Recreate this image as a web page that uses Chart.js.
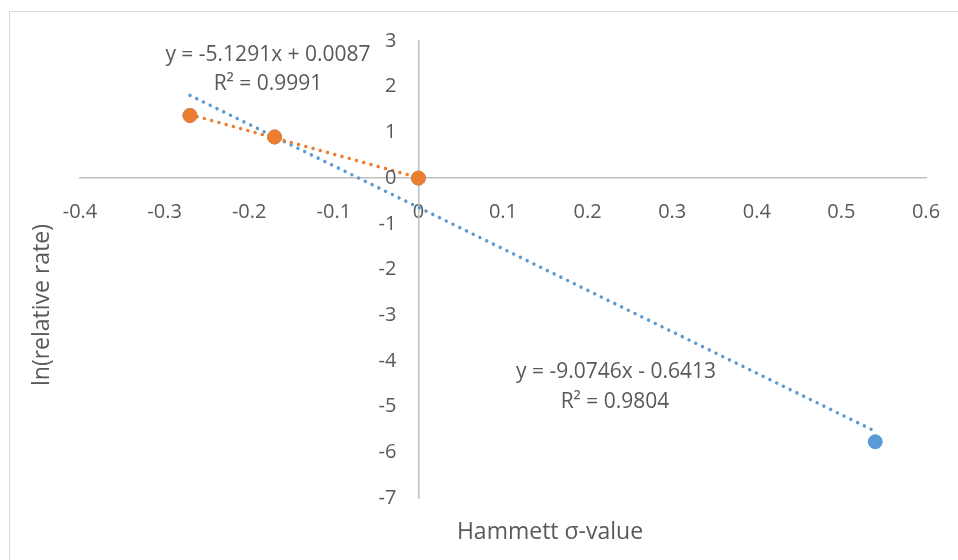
<!DOCTYPE html>
<html>
<head>
<meta charset="utf-8">
<script src="https://cdn.jsdelivr.net/npm/chart.js@4.4.1/dist/chart.umd.min.js"></script>
<style>
  html, body { margin: 0; padding: 0; background: #fff; overflow: hidden; }
  #wrap { position: relative; width: 958px; height: 560px; }
  #frame {
    position: absolute; left: 9px; top: 11px; width: 1000px; height: 600px;
    border: 1.5px solid #d9d9d9; box-sizing: border-box;
  }
  #myChart { position: absolute; left: 0; top: 0; }
</style>
</head>
<body>
<div id="wrap">
  <div id="frame"></div>
  <canvas id="myChart" width="958" height="560"></canvas>
</div>
<script>
// series 1 (blue): all four substituents
const blueSigma = [-0.27, -0.17, 0, 0.54];
const blueLnRate = [1.37, 0.90, 0, -5.77];
// series 2 (orange): electron donating + H
const orangeSigma = [-0.27, -0.17, 0];
const orangeLnRate = [1.37, 0.90, 0];

// trendline end points
const blueTrendX = [-0.27, 0.54];
const blueTrendY = [1.81, -5.54];
const orangeTrendX = [-0.27, 0];
const orangeTrendY = [1.39, 0.01];

const blueEquation = ["y = -9.0746x - 0.6413", "R² = 0.9804"];
const orangeEquation = ["y = -5.1291x + 0.0087", "R² = 0.9991"];

const xTicks = [-0.4, -0.3, -0.2, -0.1, 0, 0.1, 0.2, 0.3, 0.4, 0.5, 0.6];
const yTicks = [3, 2, 1, 0, -1, -2, -3, -4, -5, -6, -7];

const xTitle = "Hammett σ-value";
const yTitle = "ln(relative rate)";

const colorPalette = {
  blue: "#5b9bd5",
  orange: "#ed7d31",
  text: "#595959",
  axis: "#bfbfbf"
};
const fontFamily = "'Open Sans', sans-serif";

function toPoints(xs, ys) {
  return xs.map((x, i) => ({ x: x, y: ys[i] }));
}

function trendDataset(xs, ys, color, order) {
  return {
    data: toPoints(xs, ys),
    showLine: true,
    borderColor: color,
    borderWidth: 3.5,
    borderDash: [0.01, 7.5],
    borderCapStyle: "round",
    pointRadius: 0,
    order: order
  };
}

function pointDataset(xs, ys, color, order) {
  return {
    data: toPoints(xs, ys),
    showLine: false,
    backgroundColor: color,
    borderColor: color,
    borderWidth: 1,
    pointRadius: 7,
    order: order
  };
}

// y tick labels (padding is ignored for a value-positioned axis),
// axis titles and trendline labels placed like Excel did
const textPlugin = {
  id: "textPlugin",
  afterDraw(chart) {
    const ctx = chart.ctx;
    const area = chart.chartArea;
    const xScale = chart.scales.x;
    const yScale = chart.scales.y;
    ctx.save();
    ctx.fillStyle = colorPalette.text;
    ctx.textBaseline = "middle";

    ctx.font = "20px " + fontFamily;
    ctx.textAlign = "right";
    const labelX = xScale.getPixelForValue(0) - 22;
    yTicks.forEach((v) => {
      ctx.fillText(String(v), labelX, yScale.getPixelForValue(v));
    });

    ctx.textAlign = "center";
    ctx.font = "21px " + fontFamily;
    ctx.fillText(orangeEquation[0], 268, 55);
    ctx.fillText(orangeEquation[1], 268, 84);
    ctx.fillText(blueEquation[0], 616, 372);
    ctx.fillText(blueEquation[1], 615, 402);

    ctx.font = "23px " + fontFamily;
    ctx.fillText(xTitle, 550, area.bottom + 34);

    ctx.translate(42, 305);
    ctx.rotate(-Math.PI / 2);
    ctx.fillText(yTitle, 0, 0);
    ctx.restore();
  }
};

function renderChart() {
  new Chart("myChart", {
    type: "scatter",
    data: {
      datasets: [
        trendDataset(blueTrendX, blueTrendY, colorPalette.blue, 4),
        trendDataset(orangeTrendX, orangeTrendY, colorPalette.orange, 3),
        pointDataset(blueSigma, blueLnRate, colorPalette.blue, 2),
        pointDataset(orangeSigma, orangeLnRate, colorPalette.orange, 1)
      ]
    },
    options: {
      responsive: false,
      animation: false,
      layout: { padding: { left: 80, right: 32, top: 41, bottom: 62 } },
      plugins: {
        legend: { display: false },
        tooltip: { enabled: false }
      },
      scales: {
        x: {
          type: "linear",
          min: -0.4,
          max: 0.6,
          position: { y: 0 },
          afterBuildTicks: (scale) => {
            scale.ticks = xTicks.map((v) => ({ value: v }));
          },
          grid: { display: true, drawOnChartArea: false, drawTicks: false },
          border: { display: true, color: colorPalette.axis, width: 1.5 },
          ticks: {
            // a tall line box pushes the labels down without adding side padding
            padding: 0,
            color: colorPalette.text,
            font: { family: fontFamily, size: 20, lineHeight: 3.4 },
            callback: (v) => String(+v.toFixed(1))
          }
        },
        y: {
          type: "linear",
          min: -7,
          max: 3,
          position: { x: 0 },
          afterBuildTicks: (scale) => {
            scale.ticks = yTicks.map((v) => ({ value: v }));
          },
          grid: { display: true, drawOnChartArea: false, drawTicks: false },
          border: { display: true, color: colorPalette.axis, width: 1.5 },
          ticks: { display: false }
        }
      }
    },
    plugins: [textPlugin]
  });
}

renderChart();
</script>
</body>
</html>
